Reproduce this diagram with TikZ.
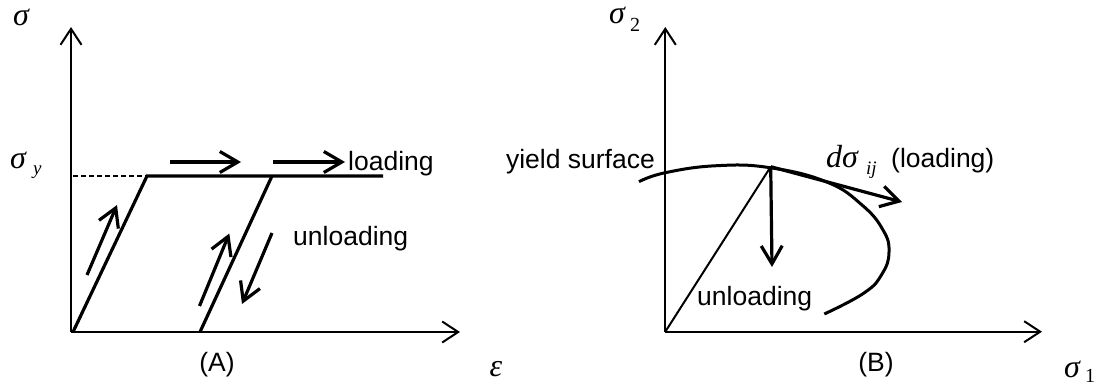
\documentclass[tikz,border=0pt]{standalone}
\usepackage{fontspec}
\setmainfont{Liberation Sans}
\newfontfamily\tms{Liberation Serif}
\usetikzlibrary{arrows.meta}
\begin{document}
\begin{tikzpicture}[x=1pt,y=-1pt,
  axis/.style={line width=2pt,-{Straight Barb[length=16pt,width=21pt]}},
  thickline/.style={line width=3.2pt},
  thinline/.style={line width=2pt},
  harrow/.style={line width=3.2pt,-{Straight Barb[length=18pt,width=21pt]}},
  lbl/.style={font=\fontsize{26.5}{26.5}\selectfont, inner sep=0pt},
  sym/.style={font=\fontsize{32}{32}\selectfont\tms\itshape, inner sep=0pt},
  subsym/.style={font=\fontsize{19}{19}\selectfont\tms\itshape, inner sep=0pt},
  subnum/.style={font=\fontsize{20}{20}\selectfont\tms, inner sep=0pt},
]
\useasboundingbox (0,0) rectangle (1099,388);

% ---------- Panel A ----------
\coordinate (O1) at (71,332);
\coordinate (Ytop1) at (71,27);
\coordinate (Xend1) at (460,332);
\draw[axis] (O1) -- (Ytop1);
\draw[axis] (O1) -- (Xend1);

\coordinate (A1) at (73,332);
\coordinate (B1) at (147,176);
\coordinate (C1) at (383,176);
\coordinate (D1) at (200,332);
\coordinate (E1) at (272,176);
\coordinate (Dash0) at (73,176);
\draw[thickline] (A1) -- (B1) -- (C1);
\draw[thickline] (D1) -- (E1);
\draw[line width=1.3pt, dash pattern=on 5pt off 3pt] (Dash0) -- (B1);

\coordinate (a1s) at (87,275);   \coordinate (a1e) at (117,205);
\coordinate (a2s) at (199.5,306);\coordinate (a2e) at (229.3,233.5);
\coordinate (a3s) at (272,233);  \coordinate (a3e) at (242,304);
\coordinate (a4s) at (170,162);  \coordinate (a4e) at (241,162);
\coordinate (a5s) at (273,162);  \coordinate (a5e) at (345,162);
\draw[harrow] (a1s) -- (a1e);
\draw[harrow] (a2s) -- (a2e);
\draw[harrow] (a3s) -- (a3e);
\draw[harrow] (a4s) -- (a4e);
\draw[harrow] (a5s) -- (a5e);

\node[sym, anchor=base] (sigA) at (21,25) {σ};
\node[sym, anchor=base west] (sigy) at (10,168) {σ};
\node[subsym, anchor=base west] (sigyy) at (33,174) {y};
\node[lbl, anchor=base west] (loadA) at (348,170) {loading};
\node[lbl, anchor=base west] (unloadA) at (293,245) {unloading};
\node[lbl, anchor=base] (capA) at (217,371) {(A)};
\node[sym, anchor=base] (eps) at (496,376) {ε};

% ---------- Panel B ----------
\coordinate (O2) at (665.3,331.7);
\coordinate (Ytop2) at (665.3,27);
\coordinate (Xend2) at (1042,331.7);
\draw[axis] (O2) -- (Ytop2);
\draw[axis] (O2) -- (Xend2);

\coordinate (P) at (770.7,166.7);
\coordinate (Pdown) at (772,267);
\coordinate (Ptan) at (902,202);
\draw[line width=3pt] plot[smooth, tension=0.75] coordinates {
  (639,181.7) (665.3,172.7) (716.7,165.7) (770,167.7) (826.7,182)
  (862,205) (883,230) (889,252) (882,274) (864,293) (824.3,314)};
\draw[thinline] (O2) -- (P);
\draw[harrow] (P) -- (Pdown);
\draw[harrow] (P) -- (Ptan);

\node[lbl, anchor=base east] (ys) at (655,168) {yield surface};
\node[sym, anchor=base west] (dsig) at (826,167) {dσ};
\node[subsym, anchor=base west] (dsigij) at (866,174) {ij};
\node[lbl, anchor=base west] (loadB) at (891,167) {(loading)};
\node[lbl, anchor=base west] (unloadB) at (697,305) {unloading};
\node[lbl, anchor=base] (capB) at (876,371) {(B)};
\node[sym, anchor=base west] (sig2) at (609,23) {σ};
\node[subnum, anchor=base west] (sig2n) at (630,31.5) {2};
\node[sym, anchor=base west] (sig1) at (1064,377) {σ};
\node[subnum, anchor=base west] (sig1n) at (1085,382) {1};
\end{tikzpicture}
\end{document}
